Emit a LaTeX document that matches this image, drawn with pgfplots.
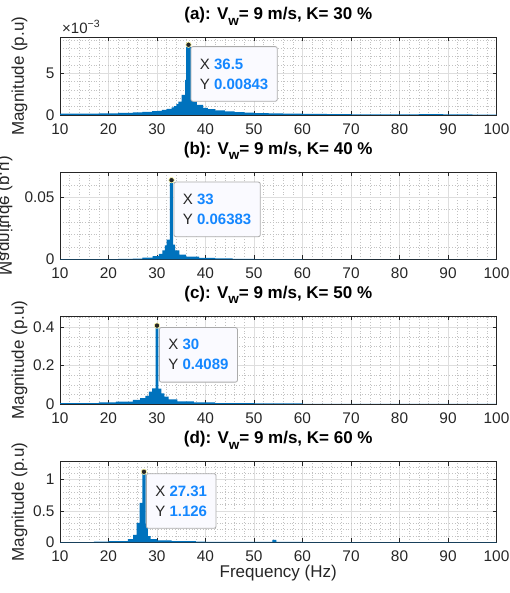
\documentclass[border=0pt]{standalone}
\usepackage{fontspec}
\setmainfont{Liberation Sans}
\usepackage{pgfplots}
\pgfplotsset{compat=1.18}

\definecolor{mblue}{RGB}{0,114,189}
\definecolor{tipblue}{RGB}{20,135,255}
\definecolor{axgray}{RGB}{38,38,38}

\newcommand{\tipv}[1]{\textcolor{tipblue}{\textbf{#1}}}
\newcommand{\sub}[1]{\raisebox{-5.5bp}{\fontsize{13.5bp}{14bp}\selectfont #1}}

\pgfplotsset{
  spec/.style={
    scale only axis, width=436.5bp,
    xmin=10, xmax=100, ymin=0,
    scaled y ticks=false, scaled x ticks=false,
    xtick={10,20,...,100},
    xticklabels={10,20,30,40,50,60,70,80,90,100},
    minor x tick num=4,
    grid=both,
    major grid style={line width=0.6bp, black!13},
    minor grid style={line width=0.6bp, black!24, dash pattern=on 0.6bp off 2.2bp},
    axis line style={axgray, line width=0.8bp},
    tick style={axgray, line width=0.8bp},
    major tick length=4bp, minor tick length=0pt,
    ticklabel style={font=\fontsize{15.4bp}{18bp}\selectfont, text=axgray},
    xticklabel style={yshift=-5bp},
    yticklabel style={xshift=-2bp},
    label style={font=\fontsize{17bp}{20bp}\selectfont, text=axgray},
    title style={font=\fontsize{17bp}{20bp}\selectfont\bfseries, text=black,
      at={(0.5,1)}, anchor=base, yshift=12bp},
    ylabel={Magnitude (p.u)},
    ylabel style={at={(rel axis cs:0,0.5)}, anchor=center, yshift=40.5bp},
  },
  fillspec/.style={fill=mblue, draw=none, const plot},
  tipmark/.style={only marks, mark=*, mark size=2.7bp,
    mark options={fill=black!85, draw=yellow!35, line width=0.6bp},
    nodes near coords style={anchor=north west, xshift=2bp, yshift=-1.5bp,
      align=left, fill={rgb,255:red,250;green,250;blue,255}, draw=black!33,
      line width=0.8bp, rounded corners=2bp, inner xsep=9bp, inner ysep=12bp,
      font=\fontsize{15bp}{20bp}\selectfont, text=axgray}},
}

\begin{document}
\begin{tikzpicture}
\useasboundingbox (0,0) rectangle (510bp,593bp);

% (a)
\begin{axis}[spec, at={(60bp,555.5bp)}, anchor=north west, height=77.5bp,
  ymax=0.0093, ytick={0,0.005}, yticklabels={0,5},
  minor ytick={0.001,0.002,0.003,0.004,0.006,0.007,0.008,0.009},
  title={(a): V\sub{w}= 9 m/s, K= 30 \%},
  after end axis/.code={
    \node[anchor=south west, font=\fontsize{15bp}{17bp}\selectfont, text=axgray, inner sep=0pt]
      at (rel axis cs:0,1) [xshift=2bp, yshift=4bp] {×10\textsuperscript{−3}};
  }]
\addplot[fillspec] coordinates {(10,0.00015)(14,0.00017)(18,0.0002)(22,0.00024)(25,0.0003)(27,0.00036)(29,0.00045)(30,0.0005)(31,0.0006)(32,0.00072)(33,0.0009)(33.5,0.00105)(34,0.0013)(34.4,0.0016)(35.1,0.0024)(35.8,0.0042)(36,0.00843)(37,0.0022)(37.5,0.0016)(38.2,0.0012)(39.5,0.00085)(40.5,0.0007)(42,0.00055)(44,0.00042)(46,0.00034)(48,0.00028)(50,0.00023)(53,0.00018)(56,0.00015)(60,0.00012)(65,0.0001)(70,0.00008)(75,0.00007)(80,0.00006)(84,0.00009)(89,0.00006)(95,0.00005)(100,0.00005)} \closedcycle;
\addplot[tipmark, nodes near coords={X \tipv{36.5}\\Y \tipv{0.00843}}] coordinates {(36.5,0.00843)};
\end{axis}

% (b)
\begin{axis}[spec, at={(60bp,421bp)}, anchor=north west, height=87.5bp,
  ymax=0.0704, ytick={0,0.05}, yticklabels={0,0.05},
  minor ytick={0.01,0.02,0.03,0.04,0.06,0.07},
  ylabel style={yshift=15bp, yscale=-1},
  title={(b): V\sub{w}= 9 m/s, K= 40 \%}]
\addplot[fillspec] coordinates {(10,0.0002)(22,0.0004)(25,0.0008)(27,0.0015)(29.1,0.0028)(30.4,0.0046)(31.1,0.0073)(31.6,0.0113)(32,0.0159)(32.66,0.06383)(33.35,0.012)(33.76,0.0073)(34.6,0.004)(36,0.0024)(38.7,0.0014)(42,0.0009)(45.6,0.0005)(50,0.0002)(60,0.0001)(100,0.0001)} \closedcycle;
\addplot[tipmark, nodes near coords={X \tipv{33}\\Y \tipv{0.06383}}] coordinates {(33,0.06383)};
\end{axis}

% (c)
\begin{axis}[spec, at={(60bp,277bp)}, anchor=north west, height=88bp,
  ymax=0.459, ytick={0,0.2,0.4}, yticklabels={0,0.2,0.4},
  minor ytick={0.05,0.1,0.15,0.25,0.3,0.35,0.45},
  title={(c): V\sub{w}= 9 m/s, K= 50 \%}]
\addplot[fillspec] coordinates {(10,0.005)(18,0.009)(21.5,0.012)(25,0.021)(26.5,0.03)(27.6,0.042)(28.3,0.064)(29,0.082)(29.7,0.4089)(30.3,0.08)(30.9,0.056)(31.5,0.038)(32.4,0.024)(34.2,0.014)(37.6,0.009)(42,0.005)(50,0.0035)(60,0.001)(100,0.001)} \closedcycle;
\addplot[tipmark, nodes near coords={X \tipv{30}\\Y \tipv{0.4089}}] coordinates {(30,0.4089)};
\end{axis}

% (d)
\begin{axis}[spec, at={(60bp,131.3bp)}, anchor=north west, height=80.6bp,
  ymax=1.287, ytick={0,0.5,1}, yticklabels={0,0.5,1},
  minor ytick={0.1,0.2,0.3,0.4,0.6,0.7,0.8,0.9,1.1,1.2},
  xlabel={Frequency (Hz)},
  xlabel style={at={(rel axis cs:0.5,0)}, anchor=base, yshift=-35bp},
  title={(d): V\sub{w}= 9 m/s, K= 60 \%}]
\addplot[fillspec] coordinates {(10,0.002)(17,0.01)(20,0.02)(24,0.05)(25.1,0.12)(25.8,0.31)(26.4,0.63)(26.97,1.126)(27.65,0.3)(28.1,0.1)(28.7,0.05)(30,0.03)(33,0.02)(38,0.012)(40,0.005)(53.8,0.037)(54.6,0.005)(60,0.003)(100,0.003)} \closedcycle;
\addplot[tipmark, nodes near coords={X \tipv{27.31}\\Y \tipv{1.126}}] coordinates {(27.31,1.126)};
\end{axis}
\end{tikzpicture}
\end{document}
